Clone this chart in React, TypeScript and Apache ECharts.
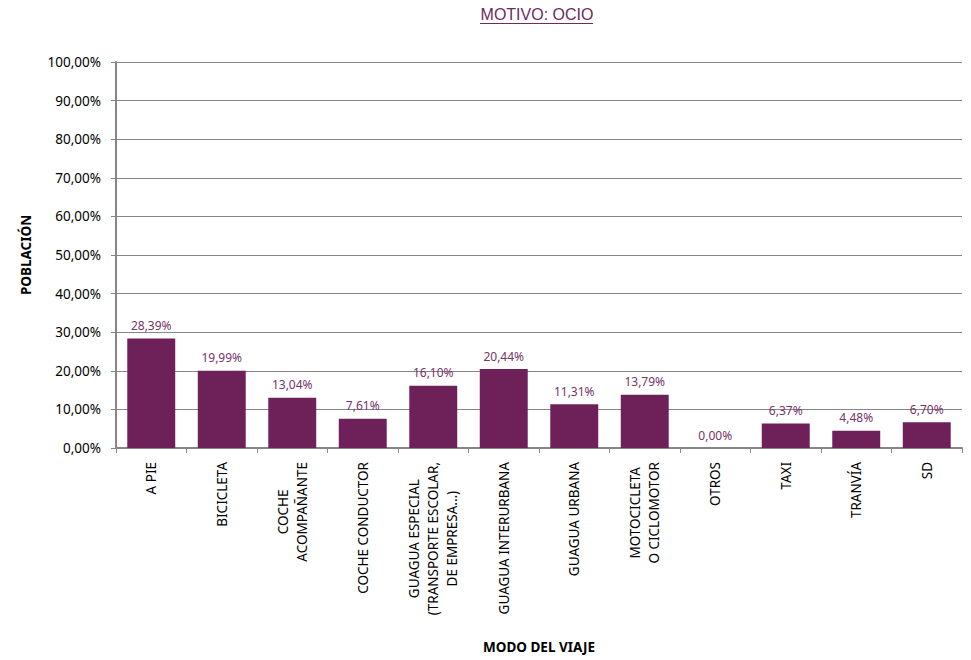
import React, { useEffect, useRef } from "react";
import * as echarts from "echarts";

const categories: string[] = [
  "A PIE",
  "BICICLETA",
  "COCHE\nACOMPAÑANTE",
  "COCHE CONDUCTOR",
  "GUAGUA ESPECIAL\n(TRANSPORTE ESCOLAR,\nDE EMPRESA...)",
  "GUAGUA INTERURBANA",
  "GUAGUA URBANA",
  "MOTOCICLETA\nO CICLOMOTOR",
  "OTROS",
  "TAXI",
  "TRANVÍA",
  "SD",
];

const values: number[] = [28.39, 19.99, 13.04, 7.61, 16.1, 20.44, 11.31, 13.79, 0.0, 6.37, 4.48, 6.7];

const titleText = "MOTIVO: OCIO";
const yAxisName = "POBLACIÓN";
const xAxisName = "MODO DEL VIAJE";

const fmtPct = (v: number) => v.toFixed(2).replace(".", ",") + "%";

export default function App() {
  const ref = useRef<HTMLDivElement>(null);
  useEffect(() => {
    if (!ref.current) return;
    const chart = echarts.init(ref.current, null, { renderer: "svg" });
    const font = "Noto Sans";
    chart.setOption({
      animation: false,
      backgroundColor: "#ffffff",
      textStyle: { fontFamily: font },
      title: {
        text: titleText,
        left: 537,
        textAlign: "center",
        top: 6,
        padding: 0,
        textStyle: {
          fontFamily: "Liberation Sans",
          fontSize: 16,
          fontWeight: "normal",
          color: "#6E2A62",
        },
      },
      graphic: [
        {
          type: "line",
          shape: { x1: 480, y1: 23.5, x2: 593, y2: 23.5 },
          style: { stroke: "#6E2A62", lineWidth: 1 },
        },
      ],
      grid: { left: 116, right: 9, top: 62, bottom: 212, containLabel: false },
      xAxis: {
        type: "category",
        data: categories,
        name: xAxisName,
        nameLocation: "middle",
        nameGap: 192,
        nameTextStyle: { fontFamily: font, fontSize: 13.5, fontWeight: "bold", color: "#000" },
        axisLine: { lineStyle: { color: "#868686", width: 2 } },
        axisTick: { show: true, length: 5, alignWithLabel: false, lineStyle: { color: "#868686", width: 1 } },
        axisLabel: {
          interval: 0,
          rotate: 90,
          margin: 14,
          color: "#000",
          fontSize: 13.5,
          fontFamily: font,
          lineHeight: 19,
          formatter: (v: string) =>
            v
              .split("\n")
              .map((l) => `{c|${l}}`)
              .join("\n"),
          rich: {
            c: { align: "center", fontSize: 13.5, fontFamily: font, color: "#000", lineHeight: 19 },
          },
        },
      },
      yAxis: {
        type: "value",
        min: 0,
        max: 100,
        interval: 10,
        name: yAxisName,
        nameLocation: "middle",
        nameGap: 83,
        nameTextStyle: { fontFamily: font, fontSize: 13.5, fontWeight: "bold", color: "#000" },
        axisLine: { show: true, lineStyle: { color: "#868686", width: 2 } },
        axisTick: { show: true, length: 5, lineStyle: { color: "#868686", width: 1 } },
        axisLabel: {
          margin: 15,
          color: "#000",
          fontSize: 13.5,
          fontFamily: font,
          formatter: (v: number) => fmtPct(v),
        },
        splitLine: { show: true, lineStyle: { color: "#868686", width: 1 } },
      },
      series: [
        {
          type: "bar",
          data: values,
          barWidth: "68%",
          itemStyle: { color: "#6E2158" },
          label: {
            show: true,
            position: "top",
            distance: 7,
            fontFamily: font,
            fontSize: 12,
            color: "#763468",
            formatter: (p: any) => fmtPct(p.value),
          },
        },
      ],
    });
    return () => chart.dispose();
  }, []);
  return (
    <div
      ref={ref}
      style={{ position: "absolute", left: 0, top: 0, width: 971, height: 660 }}
    />
  );
}
